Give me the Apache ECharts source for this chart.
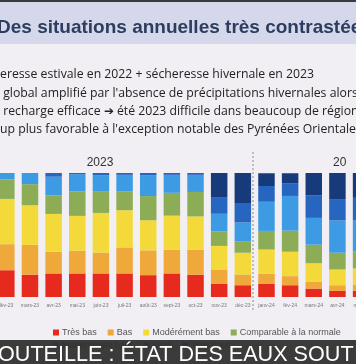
<!DOCTYPE html>
<html><head><meta charset="utf-8">
<script src="https://cdn.jsdelivr.net/npm/echarts@6/dist/echarts.min.js"></script>
<style>html,body{margin:0;padding:0;background:#f1eff3;overflow:hidden;width:356px;height:364px;}#c{width:400px;height:364px;margin-left:-22px;}</style>
</head><body><div id="c"></div>
<script>
var categories = ['fév-23','mars-23','avr-23','mai-23','juin-23','juil-23','août-23','sept-23','oct-23','nov-23','déc-23','janv-24','fév-24','mars-24','avr-24','mai-24'];
var tresBas    = [21.6,18,19,19,19,19,17.6,19,18,10.8,9.5,10.8,9.5,6.8,4.9,5];
var bas        = [21,24,17.5,18.4,16.8,21,20,19,20,11.4,8.6,8,7.3,5.4,4.6,5];
var modBas     = [36.5,32,30.5,28,32,30,24.3,27.6,27,19,17.6,19.5,19.7,15,12.7,13];
var comparable = [15.7,17,15,19.7,17.6,15,19.5,18.4,19.7,11.6,9,15,17,15,13.5,14];
var modHaut    = [5.2,9,15,14,12.6,13.5,16.6,14.5,13.8,14.3,15.4,23.5,28,21.6,26,25];
var haut       = [0,0,3,1,2,1.5,2,1.5,1.5,13.5,15.7,12.7,10.3,18,17.3,18];
var tresHaut   = [0,0,0,0,0,0,0,0,0,19.5,24.3,10.3,8,18.4,21,20];
var seriesNames = ['Très bas','Bas','Modérément bas','Comparable à la normale','Modérément haut','Haut','Très haut'];
var seriesData = [tresBas,bas,modBas,comparable,modHaut,haut,tresHaut];
var colors = ['#e62a1e','#efa83a','#f3da3a','#8cad55','#3d9be3','#2766c0','#173a7a'];
var title = 'Des situations annuelles très contrastée';
var bodyLines = [
 'eresse estivale en 2022 + sécheresse hivernale en 2023',
 ' global amplifié par l\'absence de précipitations hivernales alors',
 ' recharge efficace \u2794 été 2023 difficile dans beaucoup de régions',
 'up plus favorable à l\'exception notable des Pyrénées Orientales'
];
var yearLabels = ['2023','20'];
var banner = 'OUTEILLE : ÉTAT DES EAUX SOUT';

var OX = 22; // horizontal offset of the wider canvas
var chart = echarts.init(document.getElementById('c'), null, {renderer:'canvas'});
var series = seriesNames.map(function(n,i){
  return {name:n,type:'bar',stack:'s',barWidth:16.5,data:seriesData[i],
    itemStyle:{color:colors[i]},emphasis:{disabled:true},silent:true};
});
var graphics = [
  {type:'rect',shape:{x:0,y:0,width:400,height:2},style:{fill:'#3a3a3a'},z:10},
  {type:'rect',shape:{x:0,y:2,width:400,height:42},style:{fill:'#d4d8ea'},z:10},
  {type:'text',x:OX-3,y:28,z:11,style:{text:title,fill:'#2c3d60',font:'bold 19px "Liberation Sans", Arial, sans-serif',textVerticalAlign:'middle'}},
  {type:'line',shape:{x1:OX+253,y1:152,x2:OX+253,y2:312},style:{stroke:'#8a8a8a',lineWidth:1,lineDash:[2,2]},z:5},
  {type:'text',x:OX+100,y:163,z:11,style:{text:yearLabels[0],fill:'#333',font:'12px "Liberation Sans", Arial, sans-serif',textAlign:'center',textVerticalAlign:'middle'}},
  {type:'text',x:OX+333,y:163,z:11,style:{text:yearLabels[1],fill:'#333',font:'12px "Liberation Sans", Arial, sans-serif',textAlign:'left',textVerticalAlign:'middle'}},
  {type:'rect',shape:{x:0,y:340,width:400,height:24},style:{fill:'rgba(48,48,48,0.95)'},z:20},
  {type:'text',x:OX-2,y:355,z:21,style:{text:banner,fill:'#ffffff',font:'21.6px "Liberation Sans", Arial, sans-serif',textVerticalAlign:'middle'}}
];
bodyLines.forEach(function(t,i){
  graphics.push({type:'text',x:OX,y:75+i*18.3,z:11,style:{text:t,fill:'#222',font:'12.25px "Open Sans", "Liberation Sans", sans-serif',textVerticalAlign:'middle'}});
});
chart.setOption({
  animation:false,
  backgroundColor:'#f1eff3',
  grid:{left:OX-5.5,width:378.4,top:173,bottom:67},
  legend:[
    {data:seriesNames.slice(0,4),left:OX+48,top:323,itemWidth:6,itemHeight:6,itemGap:11,icon:'rect',
     textStyle:{fontSize:9,color:'#555',padding:[0,0,0,-2]},selectedMode:false},
    {data:seriesNames.slice(4),left:OX+48,top:336,itemWidth:6,itemHeight:6,itemGap:11,icon:'rect',
     textStyle:{fontSize:9,color:'#555',padding:[0,0,0,-2]},selectedMode:false}
  ],
  xAxis:{type:'category',data:categories,axisLine:{show:false},axisTick:{show:false},
    axisLabel:{fontSize:5,color:'#777',margin:6,interval:0}},
  yAxis:{type:'value',min:0,max:100,show:false,splitLine:{show:false}},
  series:series,
  graphic:graphics
});
</script></body></html>
